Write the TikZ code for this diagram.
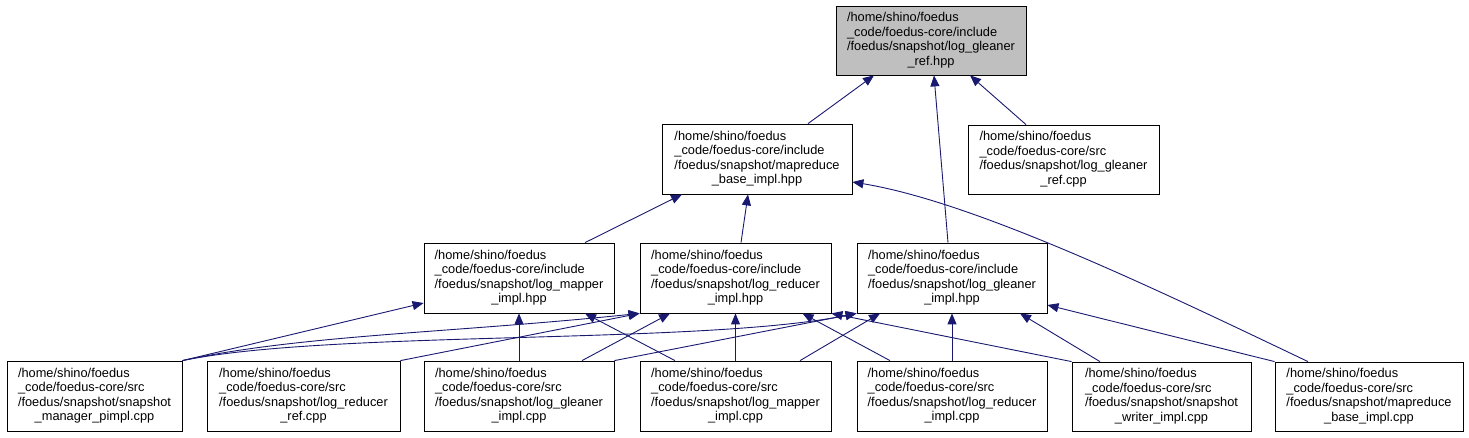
\documentclass[tikz,border=0pt]{standalone}
\usepackage{fontspec}
\setmainfont{Liberation Sans}
\usetikzlibrary{arrows.meta}
\definecolor{edgeblue}{RGB}{25,25,112}
\definecolor{rootgray}{RGB}{191,191,191}
\newcommand{\flbl}[4]{\begin{tabular}{@{}l@{}}#1\\#2\\#3\\\multicolumn{1}{@{}c@{}}{#4}\end{tabular}}
\tikzset{
  filebox/.style={draw=black, line width=0.8pt, fill=white, inner sep=0pt,
    font=\fontsize{12.8}{14.6}\selectfont, minimum height=70pt, anchor=center},
  rootbox/.style={filebox, fill=rootgray},
  dep/.style={draw=edgeblue, line width=0.9pt, -{Triangle[length=11pt,width=9pt]}}
}
\begin{document}
\begin{tikzpicture}[x=1pt,y=-1pt]
\useasboundingbox (0,0) rectangle (1469,437);
% top
\node[rootbox, minimum width=190pt, minimum height=69pt] (A) at (931,40.5)
  {\flbl{/home/shino/foedus}{\_code/foedus-core/include}{/foedus/snapshot/log\_gleaner}{\_ref.hpp}};
% second row
\node[filebox, minimum width=190pt] (B) at (757,159)
  {\flbl{/home/shino/foedus}{\_code/foedus-core/include}{/foedus/snapshot/mapreduce}{\_base\_impl.hpp}};
\node[filebox, minimum width=191pt, minimum height=69pt] (C) at (1063.5,159.5)
  {\flbl{/home/shino/foedus}{\_code/foedus-core/src}{/foedus/snapshot/log\_gleaner}{\_ref.cpp}};
% third row
\node[filebox, minimum width=190pt] (D) at (519,278)
  {\flbl{/home/shino/foedus}{\_code/foedus-core/include}{/foedus/snapshot/log\_mapper}{\_impl.hpp}};
\node[filebox, minimum width=191pt] (E) at (735.5,278)
  {\flbl{/home/shino/foedus}{\_code/foedus-core/include}{/foedus/snapshot/log\_reducer}{\_impl.hpp}};
\node[filebox, minimum width=190pt] (F) at (952,278)
  {\flbl{/home/shino/foedus}{\_code/foedus-core/include}{/foedus/snapshot/log\_gleaner}{\_impl.hpp}};
% bottom row
\node[filebox, minimum width=175pt] (G1) at (94.5,396)
  {\flbl{/home/shino/foedus}{\_code/foedus-core/src}{/foedus/snapshot/snapshot}{\_manager\_pimpl.cpp}};
\node[filebox, minimum width=193pt] (G2) at (303.5,396)
  {\flbl{/home/shino/foedus}{\_code/foedus-core/src}{/foedus/snapshot/log\_reducer}{\_ref.cpp}};
\node[filebox, minimum width=190pt] (G3) at (519,396)
  {\flbl{/home/shino/foedus}{\_code/foedus-core/src}{/foedus/snapshot/log\_gleaner}{\_impl.cpp}};
\node[filebox, minimum width=191pt] (G4) at (735.5,396)
  {\flbl{/home/shino/foedus}{\_code/foedus-core/src}{/foedus/snapshot/log\_mapper}{\_impl.cpp}};
\node[filebox, minimum width=190pt] (G5) at (952,396)
  {\flbl{/home/shino/foedus}{\_code/foedus-core/src}{/foedus/snapshot/log\_reducer}{\_impl.cpp}};
\node[filebox, minimum width=179pt, minimum height=69pt] (G6) at (1161.5,396.5)
  {\flbl{/home/shino/foedus}{\_code/foedus-core/src}{/foedus/snapshot/snapshot}{\_writer\_impl.cpp}};
\node[filebox, minimum width=188pt, minimum height=69pt] (G7) at (1369,396.5)
  {\flbl{/home/shino/foedus}{\_code/foedus-core/src}{/foedus/snapshot/mapreduce}{\_base\_impl.cpp}};
% edges to A
\draw[dep] ([xshift=51pt]B.north) -- ([xshift=-57pt]A.south);
\draw[dep] ([xshift=-4pt]F.north) -- ([xshift=3pt]A.south);
\draw[dep] ([xshift=-37.5pt]C.north) -- ([xshift=39pt]A.south);
% edges to B
\draw[dep] ([xshift=66pt]D.north) -- ([xshift=-75pt]B.south);
\draw[dep] ([xshift=5.5pt]E.north) -- ([xshift=-9pt]B.south);
\draw[dep] ([xshift=-61pt]G7.north) .. controls (1158,290) and (975,202) .. ([yshift=-23pt]B.east);
% edges to D
\draw[dep] (G1.north east) -- ([yshift=-25pt]D.west);
\draw[dep] (G3.north) -- (D.south);
\draw[dep] ([xshift=-60.5pt]G4.north) -- ([xshift=66pt]D.south);
% edges to E
\draw[dep] (G1.north east) .. controls (300,335) and (450,333) .. (E.south west);
\draw[dep] (G2.north east) -- (E.south west);
\draw[dep] ([xshift=63pt]G3.north) -- ([xshift=-65.5pt]E.south);
\draw[dep] (G4.north) -- (E.south);
\draw[dep] ([xshift=-62pt]G5.north) -- ([xshift=67pt]E.south);
\draw[dep] (G6.north west) -- (E.south east);
% edges to F
\draw[dep] (G1.north east) .. controls (330,330) and (700,345) .. (F.south west);
\draw[dep] (G3.north east) -- (F.south west);
\draw[dep] ([xshift=64.5pt]G4.north) -- ([xshift=-72pt]F.south);
\draw[dep] (G5.north) -- (F.south);
\draw[dep] ([xshift=-61.5pt]G6.north) -- ([xshift=68pt]F.south);
\draw[dep] (G7.north west) -- ([yshift=-27pt]F.east);
\end{tikzpicture}
\end{document}
